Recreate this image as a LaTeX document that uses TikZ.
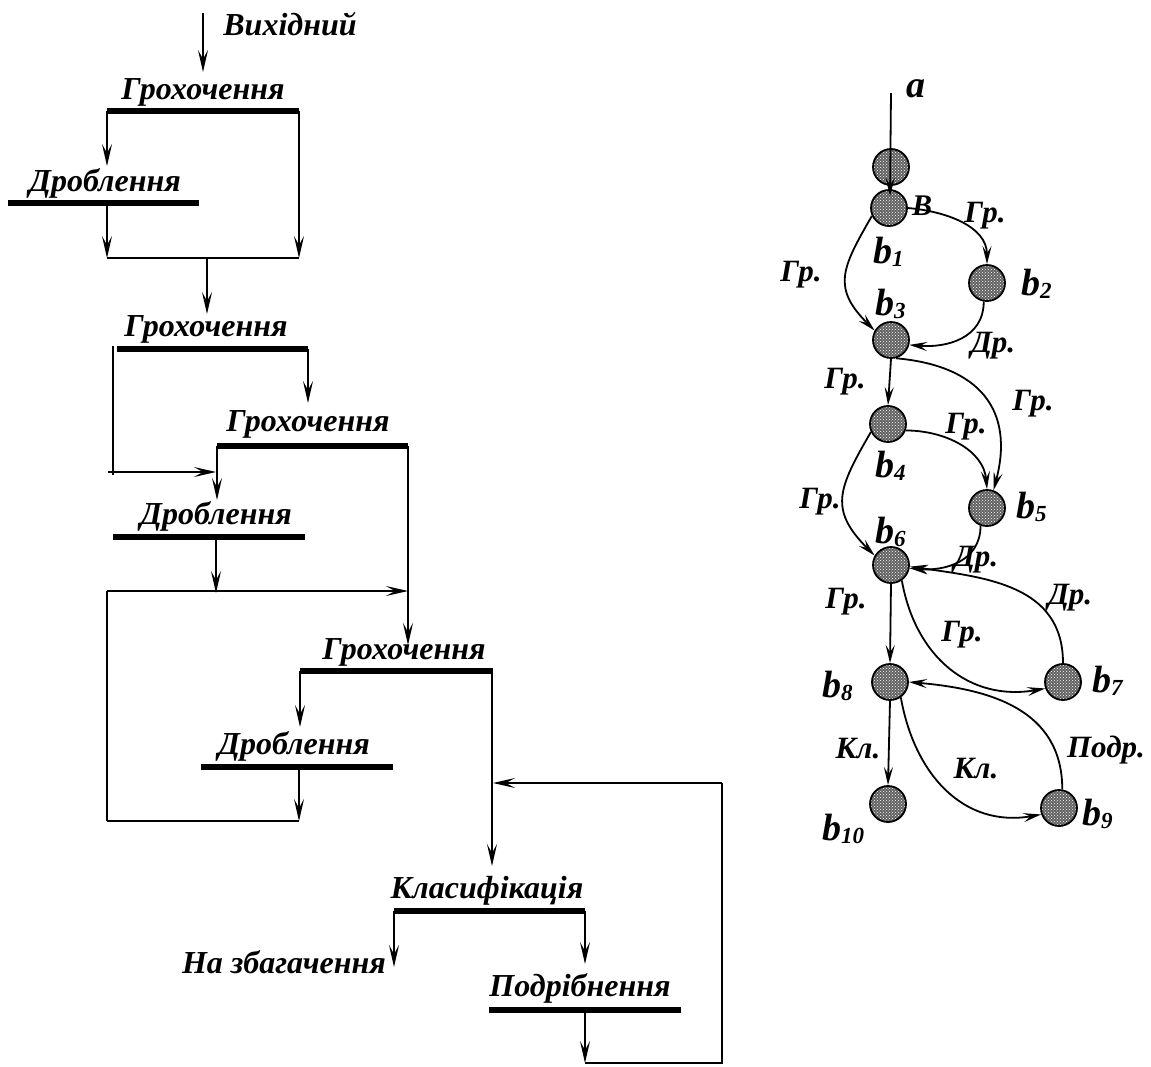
\documentclass[tikz,border=0pt]{standalone}
\usepackage{fontspec}
\setmainfont{Liberation Serif}
\usetikzlibrary{arrows.meta,patterns}
\newcommand{\bsub}[1]{b\raisebox{-3pt}{\fontsize{23}{23}\selectfont #1}}
\tikzset{
  lbl/.style={font=\fontsize{32}{32}\selectfont\bfseries\itshape, inner sep=0pt, anchor=base},
  bar/.style={line width=6pt},
  ln/.style={line width=1.6pt},
  flow/.style={line width=1.6pt, arrows={-Stealth[length=22pt,width=10pt,inset=9pt]}},
  st/.style={circle, draw, line width=1.8pt, minimum size=36pt, inner sep=0pt,
    preaction={fill=black!62}, pattern=crosshatch dots, pattern color=white},
  ed/.style={line width=1.8pt, arrows={-Stealth[length=18pt,width=9pt,inset=7pt]}},
  el/.style={font=\fontsize{31}{31}\selectfont\bfseries\itshape, inner sep=0pt},
  bl/.style={font=\fontsize{38}{38}\selectfont\bfseries\itshape, inner sep=0pt, anchor=base west}
}
\begin{document}
\begin{tikzpicture}[x=1pt,y=1pt]
\useasboundingbox (0,0) rectangle (1151,-1066);

% ---------------- left flowsheet ----------------
\coordinate (src) at (203,-13);
\coordinate (g1in) at (203,-72);
\node[lbl] (tsrc) at (290,-35) {Вихідний};
\draw[flow] (src) -- (g1in);

% bar 1: screening
\coordinate (g1l) at (107,-111); \coordinate (g1r) at (299,-111);
\draw[bar] (g1l) -- (g1r);
\node[lbl] (tg1) at (203,-99) {Грохочення};

% bar 2: crushing
\coordinate (d1l) at (8,-203); \coordinate (d1r) at (199,-203);
\draw[bar] (d1l) -- (d1r);
\node[lbl] (td1) at (105,-191) {Дроблення};
\coordinate (d1in) at (107,-166);
\draw[flow] (g1l) -- (d1in);
\coordinate (d1out) at (107,-203);
\coordinate (j1l) at (107,-258); \coordinate (j1r) at (299,-258);
\draw[flow] (d1out) -- (j1l);
\draw[flow] (g1r) -- (j1r);
\draw[ln] (j1l) -- (j1r);
\coordinate (j1m) at (207,-258); \coordinate (g2in) at (207,-314);
\draw[flow] (j1m) -- (g2in);

% bar 3: screening
\coordinate (g2l) at (117,-349); \coordinate (g2r) at (308,-349);
\draw[bar] (g2l) -- (g2r);
\node[lbl] (tg2) at (206,-336) {Грохочення};
\coordinate (u1t) at (113,-346); \coordinate (u1b) at (113,-475);
\coordinate (u1h) at (108,-472); \coordinate (d2jn) at (216,-472);
\draw[ln] (u1t) -- (u1b);
\draw[flow] (u1h) -- (d2jn);
\coordinate (g3in) at (308,-403);
\draw[flow] (g2r) -- (g3in);

% bar 4: screening
\coordinate (g3l) at (217,-446); \coordinate (g3r) at (408,-446);
\draw[bar] (g3l) -- (g3r);
\node[lbl] (tg3) at (308,-431) {Грохочення};
\coordinate (d2in) at (217,-500);
\draw[flow] (g3l) -- (d2in);

% bar 5: crushing
\coordinate (d2l) at (113,-537); \coordinate (d2r) at (305,-537);
\draw[bar] (d2l) -- (d2r);
\node[lbl] (td2) at (216,-524) {Дроблення};
\coordinate (d2out) at (216,-537); \coordinate (j2m) at (216,-593);
\draw[flow] (d2out) -- (j2m);
\coordinate (j2l) at (107,-591); \coordinate (j2r) at (408,-591);
\draw[flow] (j2l) -- (j2r);
\coordinate (j3l) at (107,-821);
\draw[ln] (j2l) -- (j3l);
\coordinate (g4in) at (408,-645);
\draw[flow] (g3r) -- (g4in);

% bar 6: screening
\coordinate (g4l) at (300,-671); \coordinate (g4r) at (493,-671);
\draw[bar] (g4l) -- (g4r);
\node[lbl] (tg4) at (404,-659) {Грохочення};
\coordinate (d3in) at (300,-727);
\draw[flow] (g4l) -- (d3in);

% bar 7: crushing
\coordinate (d3l) at (201,-767); \coordinate (d3r) at (393,-767);
\draw[bar] (d3l) -- (d3r);
\node[lbl] (td3) at (294,-754) {Дроблення};
\coordinate (d3out) at (299,-767); \coordinate (j3r) at (299,-821);
\draw[flow] (d3out) -- (j3r);
\draw[ln] (j3l) -- (j3r);
\coordinate (g4rv) at (492,-671); \coordinate (k1in) at (492,-866);
\draw[flow] (g4rv) -- (k1in);

% bar 8: classification
\coordinate (k1l) at (394,-911); \coordinate (k1r) at (585,-911);
\draw[bar] (k1l) -- (k1r);
\node[lbl] (tk1) at (487,-898) {Класифікація};
\coordinate (out1) at (394,-967);
\draw[flow] (k1l) -- (out1);
\node[lbl, anchor=base east] (tout) at (386,-973) {На збагачення};
\coordinate (p1in) at (585,-964);
\draw[flow] (k1r) -- (p1in);

% bar 9: grinding
\coordinate (p1l) at (489,-1010); \coordinate (p1r) at (681,-1010);
\draw[bar] (p1l) -- (p1r);
\node[lbl] (tp1) at (580,-996) {Подрібнення};
\coordinate (p1out) at (585,-1010); \coordinate (fbb) at (585,-1063);
\draw[flow] (p1out) -- (fbb);
\coordinate (fbr) at (722,-1063); \coordinate (fbt) at (722,-783);
\coordinate (fbin) at (493,-783);
\draw[ln] (fbb) -- (fbr) -- (fbt);
\draw[flow] (fbt) -- (fbin);

% ---------------- right graph ----------------
\node[st] (s0) at (891,-167) {};
\node[st] (b1) at (889,-208) {};
\node[st] (b2) at (987,-283) {};
\node[st] (b3) at (891,-340) {};
\node[st] (b4) at (888,-424) {};
\node[st] (b5) at (987,-508) {};
\node[st] (b6) at (891,-565) {};
\node[st] (b7) at (1063,-682) {};
\node[st] (b8) at (890,-682) {};
\node[st] (b9) at (1059,-808) {};
\node[st] (b10) at (888,-804) {};

\coordinate (ain) at (891,-93);
\coordinate (atip) at (890,-196);
\node[bl] (ta) at (906,-97) {a};
\draw[ed] (ain) -- (atip);
\node[inner sep=0pt, font=\fontsize{30}{30}\selectfont\bfseries\itshape] (tB) at (922,-206) {В};

\draw[ed] (b1.east) to[out=-5,in=90] (b2.north);
\draw[ed] (b1.205) to[out=240,in=135,looseness=1.35] (b3.150);
\draw[ed] (b2.260) to[out=270,in=-5,looseness=1.1] (b3.-15);
\draw[ed] (b3.south) -- (b4.north);
\draw[ed] (b3.-75) to[out=-5,in=75,looseness=1.3] (b5.70);
\draw[ed] (b4.-20) to[out=0,in=95] (b5.north);
\draw[ed] (b4.205) to[out=240,in=135,looseness=1.35] (b6.150);
\draw[ed] (b5.250) to[out=270,in=-5,looseness=1.1] (b6.-10);
\draw[ed] (b7.north) to[out=90,in=-8,looseness=1.1] (b6.-5);
\draw[ed] (b6.-55) to[out=-80,in=190,looseness=1.1] (b7.200);
\draw[ed] (b6.south) -- (b8.north);
\draw[ed] (b9.80) to[out=90,in=-5,looseness=1.1] (b8.east);
\draw[ed] (b8.-55) to[out=-80,in=190,looseness=1.1] (b9.200);
\draw[ed] (b8.south) -- (b10.north);

\node[el] (e1) at (801,-275) {Гр.};
\node[el] (e2) at (985,-216) {Гр.};
\node[el] (e3) at (993,-346) {Др.};
\node[el] (e4) at (845,-382) {Гр.};
\node[el] (e5) at (1033,-404) {Гр.};
\node[el] (e6) at (966,-427) {Гр.};
\node[el] (e7) at (820,-502) {Гр.};
\node[el] (e8) at (976,-560) {Др.};
\node[el] (e9) at (1070,-598) {Др.};
\node[el] (e10) at (846,-602) {Гр.};
\node[el] (e11) at (962,-635) {Гр.};
\node[el] (e12) at (858,-749) {Кл.};
\node[el] (e13) at (976,-769) {Кл.};
\node[el] (e14) at (1106,-750) {Подр.};

\node[bl] (lb1) at (873,-263) {\bsub{1}};
\node[bl] (lb2) at (1021,-295) {\bsub{2}};
\node[bl] (lb3) at (875,-315) {\bsub{3}};
\node[bl] (lb4) at (875,-477) {\bsub{4}};
\node[bl] (lb5) at (1016,-518) {\bsub{5}};
\node[bl] (lb6) at (875,-543) {\bsub{6}};
\node[bl] (lb7) at (1092,-692) {\bsub{7}};
\node[bl] (lb8) at (822,-697) {\bsub{8}};
\node[bl] (lb9) at (1082,-825) {\bsub{9}};
\node[bl] (lb10) at (822,-840) {\bsub{10}};
\end{tikzpicture}
\end{document}
